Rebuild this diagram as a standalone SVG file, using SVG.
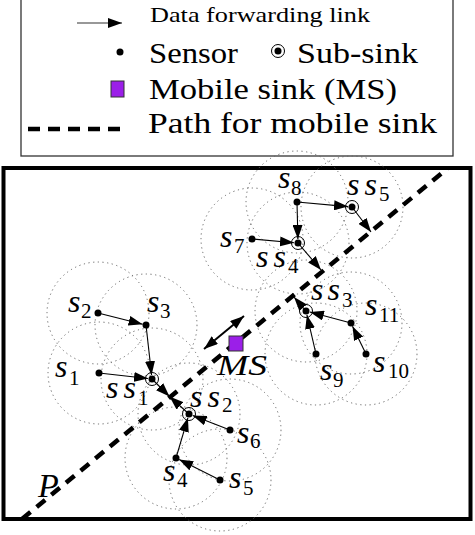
<svg xmlns="http://www.w3.org/2000/svg" width="475" height="535" viewBox="0 0 475 535">
<style>
.rng{fill:none;stroke:#666;stroke-width:1;stroke-dasharray:1.2 3.5}
.lnk{fill:none;stroke:#000;stroke-width:1.1;marker-end:url(#ah)}
.dot{fill:#000}
.ss{fill:none;stroke:#000;stroke-width:1}
.path{fill:none;stroke:#000;stroke-width:4.5;stroke-dasharray:11 8}
.m{font-family:"Liberation Serif","Times New Roman",serif;font-style:italic;font-size:32px;fill:#000}
.sb{font-family:"Liberation Serif","Times New Roman",serif;font-size:21px;fill:#000}
.lg{font-family:"Liberation Serif","Times New Roman",serif;font-size:30px;fill:#000}
.ms{fill:#9b1fe8;stroke:#333;stroke-width:1}
</style>
<defs>
<marker id="ah" viewBox="0 0 14 10" refX="14" refY="5" markerWidth="14" markerHeight="10" markerUnits="userSpaceOnUse" orient="auto">
<path d="M0,0 L14,5 L0,10 z" fill="#000"/>
</marker>
<marker id="ah2" viewBox="0 0 14 10" refX="14" refY="5" markerWidth="14" markerHeight="10" markerUnits="userSpaceOnUse" orient="auto-start-reverse">
<path d="M0,0 L14,5 L0,10 z" fill="#000"/>
</marker>
</defs>
<rect width="475" height="535" fill="#fff"/>

<g id="legend">
<rect x="21" y="-2" width="432" height="158" fill="none" stroke="#333" stroke-width="1.3"/>
<line x1="77" y1="23" x2="122" y2="23" stroke="#333" stroke-width="1.1" marker-end="url(#ah)"/>
<text class="lg" x="150" y="22" style="font-size:22px" textLength="220" lengthAdjust="spacingAndGlyphs">Data forwarding link</text>
<circle class="dot" cx="120" cy="52" r="3.5"/>
<text class="lg" x="149" y="63" textLength="89" lengthAdjust="spacingAndGlyphs">Sensor</text>
<circle class="ss" cx="278" cy="51" r="6.5"/>
<circle class="dot" cx="278" cy="51" r="3.5"/>
<text class="lg" x="297" y="63" textLength="121" lengthAdjust="spacingAndGlyphs">Sub-sink</text>
<rect class="ms" x="111" y="81" width="13" height="16"/>
<text class="lg" x="149" y="99" textLength="248" lengthAdjust="spacingAndGlyphs">Mobile sink (MS)</text>
<line x1="28" y1="129" x2="120" y2="129" stroke="#000" stroke-width="4.5" stroke-dasharray="12 8"/>
<text class="lg" x="148" y="133" textLength="289" lengthAdjust="spacingAndGlyphs">Path for mobile sink</text>
</g>

<rect id="field" x="3.5" y="168" width="467" height="351" fill="none" stroke="#000" stroke-width="4"/>

<g id="ranges">
<circle class="rng" cx="99" cy="373" r="51"/>
<circle class="rng" cx="98" cy="313" r="51"/>
<circle class="rng" cx="146" cy="325" r="51"/>
<circle class="rng" cx="152" cy="379" r="51"/>
<circle class="rng" cx="189" cy="414" r="51"/>
<circle class="rng" cx="230" cy="430" r="51"/>
<circle class="rng" cx="176" cy="458" r="51"/>
<circle class="rng" cx="220" cy="480" r="51"/>
<circle class="rng" cx="297" cy="202" r="51"/>
<circle class="rng" cx="352" cy="207" r="51"/>
<circle class="rng" cx="252" cy="239" r="51"/>
<circle class="rng" cx="298" cy="243" r="51"/>
<circle class="rng" cx="306" cy="311" r="51"/>
<circle class="rng" cx="351" cy="323" r="51"/>
<circle class="rng" cx="316" cy="354" r="51"/>
<circle class="rng" cx="366" cy="354" r="51"/>
</g>

<g id="mobile-path">
<line class="path" x1="22" y1="519" x2="448" y2="168"/>
<text class="m" x="38" y="497" style="font-size:34px">P</text>
</g>

<g id="connectors">
<line class="lnk" x1="98" y1="313" x2="142.6" y2="324.2"/>
<line class="lnk" x1="146" y1="325" x2="151.6" y2="375"/>
<line class="lnk" x1="99" y1="373" x2="148" y2="378.5"/>
<line class="lnk" x1="152" y1="379" x2="169.5" y2="396.5"/>
<line class="lnk" x1="230" y1="430" x2="192.7" y2="415.5"/>
<line class="lnk" x1="176" y1="458" x2="187.9" y2="417.8"/>
<line class="lnk" x1="220" y1="480" x2="179.1" y2="459.6"/>
<line class="lnk" x1="189" y1="414" x2="169.5" y2="396.5"/>
<line class="lnk" x1="297" y1="202" x2="348" y2="206.6"/>
<line class="lnk" x1="297" y1="202" x2="297.9" y2="239"/>
<line class="lnk" x1="252" y1="239" x2="294" y2="242.7"/>
<line class="lnk" x1="352" y1="207" x2="371" y2="232"/>
<line class="lnk" x1="298" y1="243" x2="321" y2="270"/>
<line class="lnk" x1="351" y1="323" x2="309.9" y2="312"/>
<line class="lnk" x1="366" y1="354" x2="352.5" y2="326.2"/>
<line class="lnk" x1="316" y1="354" x2="306.9" y2="314.9"/>
<line class="lnk" x1="306" y1="311" x2="294" y2="297"/>
<line x1="204" y1="349" x2="244" y2="316" stroke="#000" stroke-width="2" marker-start="url(#ah2)" marker-end="url(#ah2)"/>
</g>

<g id="s1"><circle class="dot" cx="99" cy="373" r="3.5"/><text class="m" x="55" y="377">s</text><text class="sb" x="69" y="385">1</text></g>
<g id="s2"><circle class="dot" cx="98" cy="313" r="3.5"/><text class="m" x="68" y="312">s</text><text class="sb" x="81" y="318">2</text></g>
<g id="s3"><circle class="dot" cx="146" cy="325" r="3.5"/><text class="m" x="147" y="312">s</text><text class="sb" x="160" y="318">3</text></g>
<g id="ss1"><circle class="ss" cx="152" cy="379" r="6.5"/><circle class="dot" cx="152" cy="379" r="3.5"/><text class="m" x="106" y="398" textLength="30" lengthAdjust="spacing">ss</text><text class="sb" x="138" y="405">1</text></g>
<g id="ss2"><circle class="ss" cx="189" cy="414" r="6.5"/><circle class="dot" cx="189" cy="414" r="3.5"/><text class="m" x="190" y="407" textLength="30" lengthAdjust="spacing">ss</text><text class="sb" x="222" y="412">2</text></g>
<g id="s4"><circle class="dot" cx="176" cy="458" r="3.5"/><text class="m" x="163" y="481">s</text><text class="sb" x="177" y="487">4</text></g>
<g id="s5"><circle class="dot" cx="220" cy="480" r="3.5"/><text class="m" x="229" y="488">s</text><text class="sb" x="243" y="495">5</text></g>
<g id="s6"><circle class="dot" cx="230" cy="430" r="3.5"/><text class="m" x="237" y="443">s</text><text class="sb" x="250" y="448">6</text></g>
<g id="s7"><circle class="dot" cx="252" cy="239" r="3.5"/><text class="m" x="220" y="247">s</text><text class="sb" x="234" y="253">7</text></g>
<g id="s8"><circle class="dot" cx="297" cy="202" r="3.5"/><text class="m" x="278" y="188">s</text><text class="sb" x="291" y="195">8</text></g>
<g id="ss4"><circle class="ss" cx="298" cy="243" r="6.5"/><circle class="dot" cx="298" cy="243" r="3.5"/><text class="m" x="256" y="267" textLength="30" lengthAdjust="spacing">ss</text><text class="sb" x="288" y="273">4</text></g>
<g id="ss5"><circle class="ss" cx="352" cy="207" r="6.5"/><circle class="dot" cx="352" cy="207" r="3.5"/><text class="m" x="347" y="195" textLength="30" lengthAdjust="spacing">ss</text><text class="sb" x="379" y="201">5</text></g>
<g id="ss3"><circle class="ss" cx="306" cy="311" r="6.5"/><circle class="dot" cx="306" cy="311" r="3.5"/><text class="m" x="311" y="300" textLength="29" lengthAdjust="spacing">ss</text><text class="sb" x="342" y="307">3</text></g>
<g id="s11"><circle class="dot" cx="351" cy="323" r="3.5"/><text class="m" x="365" y="315">s</text><text class="sb" x="379" y="322">11</text></g>
<g id="s9"><circle class="dot" cx="316" cy="354" r="3.5"/><text class="m" x="320" y="380">s</text><text class="sb" x="333" y="387">9</text></g>
<g id="s10"><circle class="dot" cx="366" cy="354" r="3.5"/><text class="m" x="373" y="372">s</text><text class="sb" x="388" y="378">10</text></g>
<g id="MS"><rect class="ms" x="229" y="336" width="14" height="15"/><text class="m" x="217" y="375" style="font-size:30px" textLength="50" lengthAdjust="spacingAndGlyphs">MS</text></g>
</svg>
